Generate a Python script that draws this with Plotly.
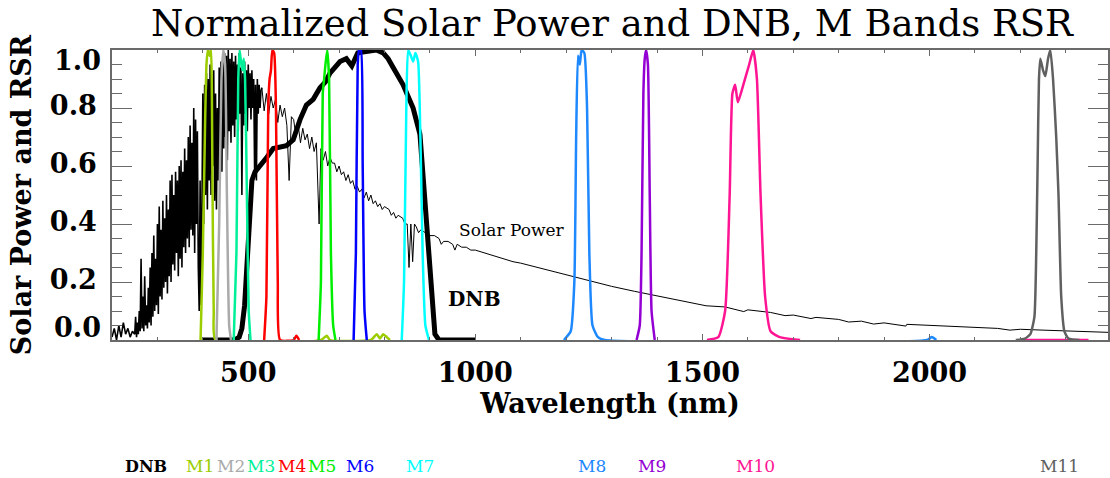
import plotly.graph_objects as go

# ---- Solar spectrum (normalized) ----
# short-wave part: dense absorption-line structure
solar_uv_nm = [200, 205, 210, 215, 220, 225, 230, 235, 240, 245,
               250, 252, 254, 256, 258, 260, 262, 264, 266, 268,
               270, 272, 274, 276, 278, 280, 282, 284, 286, 288,
               290, 292, 294, 296, 298, 300, 302, 304, 306, 308,
               310, 312, 314, 316, 318, 320, 322, 324, 326, 328,
               330, 332, 334, 336, 338, 340, 342, 344, 346, 348,
               350, 352, 354, 356, 358, 360, 362, 364, 366, 368,
               370, 372, 374, 376, 378, 380, 382, 384, 386, 388,
               390, 392, 394, 396, 398, 400, 402, 404, 406, 408,
               410, 412, 414, 416, 418, 420, 422, 424, 426, 428,
               430, 432, 434, 436, 438, 440, 442, 444, 446, 448,
               450, 452, 454, 456, 458, 460, 462, 464, 466, 468,
               470, 472, 474, 476, 478, 480, 482, 484, 486, 488,
               490, 492, 494, 496, 498, 500, 502, 504, 506, 508,
               510, 512, 514, 516, 518, 520, 522, 524, 526, 528, 530]
solar_uv_power = [0.01, 0.04, 0.00, 0.05, 0.01, 0.06, 0.02, 0.04, 0.01, 0.03,
                  0.02, 0.08, 0.01, 0.06, 0.02, 0.10, 0.03, 0.28, 0.04, 0.15,
                  0.03, 0.22, 0.05, 0.12, 0.04, 0.18, 0.06, 0.25, 0.05, 0.30,
                  0.08, 0.36, 0.10, 0.28, 0.12, 0.40, 0.09, 0.46, 0.15, 0.38,
                  0.14, 0.48, 0.18, 0.42, 0.20, 0.50, 0.16, 0.45, 0.22, 0.55,
                  0.20, 0.57, 0.26, 0.50, 0.24, 0.58, 0.30, 0.55, 0.22, 0.60,
                  0.28, 0.62, 0.25, 0.58, 0.32, 0.66, 0.30, 0.62, 0.35, 0.70,
                  0.32, 0.74, 0.38, 0.68, 0.36, 0.80, 0.30, 0.76, 0.40, 0.72,
                  0.25, 0.10, 0.55, 0.12, 0.45, 0.85, 0.40, 0.88, 0.50, 0.92,
                  0.45, 0.90, 0.55, 0.95, 0.50, 0.88, 0.60, 0.93, 0.48, 0.85,
                  0.45, 0.80, 0.55, 0.94, 0.62, 0.96, 0.58, 0.97, 0.66, 0.99,
                  0.70, 0.98, 0.62, 1.00, 0.72, 0.97, 0.68, 0.99, 0.74, 0.96,
                  0.70, 0.98, 0.76, 0.95, 0.72, 0.99, 0.78, 0.94, 0.50, 0.92,
                  0.74, 0.96, 0.78, 0.93, 0.72, 0.95, 0.80, 0.92, 0.76, 0.93,
                  0.80, 0.90, 0.58, 0.88, 0.55, 0.90, 0.78, 0.88, 0.80, 0.86, 0.87]
# visible / infrared part
solar_nm = [530, 535, 540, 545, 550, 555, 560, 565, 570, 575,
            580, 585, 590, 595, 600, 605, 610, 615, 620, 625,
            630, 635, 640, 645, 650, 656, 660, 665, 670, 675,
            680, 685, 690, 695, 700, 705, 710, 715, 720, 725,
            730, 735, 740, 745, 750, 755, 760, 765, 770, 775,
            780, 785, 790, 795, 800, 810, 815, 820, 825, 830,
            840, 845, 850, 854, 858, 862, 866, 870, 875, 880,
            890, 895, 900, 910, 920, 925, 930, 940, 950, 955,
            960, 970, 980, 990, 1000, 1050, 1083, 1100, 1150, 1200,
            1250, 1282, 1300, 1350, 1400, 1450, 1508, 1550, 1591, 1600,
            1650, 1682, 1700, 1739, 1750, 1800, 1822, 1850, 1877, 1900,
            1948, 1950, 2000, 2050, 2100, 2150, 2177, 2200, 2250, 2300,
            2350, 2400]
solar_power = [0.87, 0.79, 0.85, 0.78, 0.84, 0.80, 0.83, 0.75, 0.81, 0.77,
               0.80, 0.74, 0.55, 0.77, 0.76, 0.70, 0.74, 0.68, 0.73, 0.69,
               0.71, 0.66, 0.70, 0.65, 0.68, 0.40, 0.66, 0.62, 0.65, 0.60,
               0.63, 0.61, 0.61, 0.58, 0.60, 0.57, 0.58, 0.55, 0.57, 0.54,
               0.55, 0.52, 0.53, 0.51, 0.52, 0.49, 0.51, 0.48, 0.50, 0.47,
               0.48, 0.46, 0.47, 0.45, 0.46, 0.45, 0.43, 0.44, 0.42, 0.43,
               0.42, 0.40, 0.40, 0.25, 0.40, 0.27, 0.40, 0.39, 0.37, 0.38,
               0.37, 0.35, 0.36, 0.36, 0.35, 0.33, 0.34, 0.34, 0.33, 0.31,
               0.33, 0.32, 0.32, 0.31, 0.31, 0.285, 0.27, 0.265, 0.245, 0.225,
               0.205, 0.19, 0.185, 0.168, 0.152, 0.138, 0.118, 0.114, 0.098, 0.104,
               0.095, 0.084, 0.086, 0.074, 0.078, 0.071, 0.062, 0.065, 0.055, 0.059,
               0.048, 0.054, 0.050, 0.046, 0.043, 0.040, 0.034, 0.037, 0.034, 0.031,
               0.028, 0.026]

# ---- Day/Night Band relative spectral response ----
dnb_nm = [400, 470, 480, 486, 492, 497, 502, 508, 515, 526, 541, 555, 570, 584, 599, 614, 628, 643,
          658, 670, 680, 692, 702, 716, 728, 741, 760, 782, 797, 808, 819, 830, 841, 852, 863, 878,
          889, 900, 911, 920, 1000]
dnb_rsr = [0, 0, 0.01, 0.04, 0.12, 0.25, 0.45, 0.55, 0.58, 0.60, 0.63, 0.66, 0.665, 0.67, 0.69, 0.76,
           0.81, 0.83, 0.87, 0.89, 0.92, 0.945, 0.96, 0.97, 0.945, 0.99, 0.995, 1.0, 0.99, 0.97, 0.94,
           0.91, 0.88, 0.84, 0.80, 0.71, 0.48, 0.23, 0.02, 0, 0]

# ---- M band relative spectral responses ----
m1_nm = [395, 400, 405, 408, 411, 415, 418, 421, 424, 428, 660, 673, 680, 770, 783, 790, 797, 805, 812]
m1_rsr = [0, 0.3, 0.75, 0.95, 1.0, 0.98, 1.0, 0.6, 0.1, 0, 0, 0.015, 0, 0, 0.02, 0.005, 0.02, 0.01, 0]
m2_nm = [430, 436, 441, 445, 449, 453, 458, 462]
m2_rsr = [0, 0.4, 0.9, 1.0, 0.95, 0.5, 0.05, 0]
m3_nm = [468, 474, 478, 481, 484, 487, 490, 493, 497, 501, 505]
m3_rsr = [0, 0.3, 0.9, 1.0, 0.96, 0.93, 0.97, 0.9, 0.5, 0.1, 0]
m4_nm = [535, 540, 544, 547, 550, 553, 557, 561, 565, 570, 600, 606, 612]
m4_rsr = [0, 0.15, 0.8, 0.9, 0.93, 1.0, 0.99, 0.8, 0.2, 0, 0, 0.015, 0]
m5_nm = [655, 660, 664, 667, 670, 674, 678, 682, 687, 692]
m5_rsr = [0, 0.2, 0.85, 0.9, 0.95, 1.0, 0.9, 0.3, 0.05, 0]
m6_nm = [732, 737, 741, 744, 748, 752, 756, 761]
m6_rsr = [0, 0.3, 0.95, 1.0, 1.0, 0.6, 0.1, 0]
m7_nm = [838, 843, 848, 852, 858, 863, 868, 874, 879, 884, 890, 898]
m7_rsr = [0, 0.2, 0.8, 1.0, 0.98, 0.96, 0.99, 0.96, 0.7, 0.3, 0.05, 0]
m8_nm = [1195, 1210, 1218, 1222, 1226, 1230, 1234, 1240, 1246, 1251, 1258, 1270, 1285, 1995, 2005, 2015]
m8_rsr = [0, 0.03, 0.2, 0.7, 0.98, 0.95, 1.0, 0.99, 0.8, 0.3, 0.05, 0.01, 0, 0, 0.01, 0]
m9_nm = [1355, 1362, 1366, 1370, 1373, 1376, 1380, 1384, 1388, 1395]
m9_rsr = [0, 0.05, 0.3, 0.85, 0.97, 1.0, 0.95, 0.5, 0.1, 0]
m10_nm = [1510, 1535, 1550, 1560, 1566, 1572, 1578, 1590, 1603, 1612, 1620, 1628, 1638, 1650, 1670,
          1715, None, 2205, 2350]
m10_rsr = [0, 0.01, 0.1, 0.5, 0.85, 0.88, 0.82, 0.88, 0.95, 1.0, 0.9, 0.5, 0.15, 0.03, 0.01,
           0, None, 0, 0]
m11_nm = [2190, 2210, 2222, 2231, 2235, 2238, 2241, 2244, 2250, 2255, 2261, 2266, 2272, 2279, 2284,
          2290, 2297, 2306, 2330]
m11_rsr = [0, 0.005, 0.02, 0.08, 0.3, 0.6, 0.9, 0.97, 0.93, 0.91, 0.97, 1.0, 0.9, 0.7, 0.5,
           0.15, 0.03, 0.005, 0]

band_names = ["M1", "M2", "M3", "M4", "M5", "M6", "M7", "M8", "M9", "M10", "M11"]
band_nm = [m1_nm, m2_nm, m3_nm, m4_nm, m5_nm, m6_nm, m7_nm, m8_nm, m9_nm, m10_nm, m11_nm]
band_rsr = [m1_rsr, m2_rsr, m3_rsr, m4_rsr, m5_rsr, m6_rsr, m7_rsr, m8_rsr, m9_rsr, m10_rsr, m11_rsr]
band_colors = ["#9BCD00", "#AAAAAA", "#00F09A", "#FF0000", "#00EE00", "#0000FF", "#00FFFF",
               "#1E88FF", "#9400D3", "#FF1493", "#606060"]

# key labels under the axis: name, colour, x position (nm)
key_names = ["DNB"] + band_names
key_colors = ["#000000"] + band_colors
key_x = [275, 394, 461, 529, 597, 663, 745, 879, 1256, 1389, 1616, 2286]

x_ticks = [500, 1000, 1500, 2000]
y_ticks = [0.0, 0.2, 0.4, 0.6, 0.8, 1.0]
y_tick_text = ["", "0.2", "0.4", "0.6", "0.8", ""]

SERIF = "DejaVu Serif"
AXIS_GRAY = "#6a6a6a"
TICK_SIZE = 27

fig = go.Figure()

fig.add_trace(go.Scatter(x=solar_uv_nm, y=solar_uv_power, mode="lines",
                         line=dict(color="#000000", width=1.6), hoverinfo="skip"))
fig.add_trace(go.Scatter(x=solar_nm, y=solar_power, mode="lines",
                         line=dict(color="#000000", width=1), hoverinfo="skip"))
fig.add_trace(go.Scatter(x=dnb_nm, y=dnb_rsr, mode="lines",
                         line=dict(color="#000000", width=5), hoverinfo="skip"))
for nm, rsr, col in zip(band_nm, band_rsr, band_colors):
    fig.add_trace(go.Scatter(x=nm, y=rsr, mode="lines",
                             line=dict(color=col, width=2.5, shape="spline", smoothing=0.5),
                             hoverinfo="skip"))

annotations = []
# in-plot labels
annotations.append(dict(x=1080, y=0.38, xref="x", yref="y", text="Solar Power", showarrow=False,
                        font=dict(family=SERIF, size=17, color="#000000")))
annotations.append(dict(x=998, y=0.142, xref="x", yref="y", text="DNB", showarrow=False,
                        font=dict(family=SERIF, size=20, color="#000000", weight="bold")))
# end tick labels of the y axis, kept inside the axis span
for val, txt, shift in [(0.0, "0.0", 13), (1.0, "1.0", -10)]:
    annotations.append(dict(x=0, y=val, xref="paper", yref="y", text=txt, showarrow=False,
                            xanchor="right", xshift=-9, yshift=shift,
                            font=dict(family=SERIF, size=TICK_SIZE, color="#000000", weight="bold")))
# band key below the plot
for name, col, xk in zip(key_names, key_colors, key_x):
    bold = name == "DNB"
    annotations.append(dict(x=xk, y=-0.4345, xref="x", yref="paper", yanchor="middle",
                            text=name, showarrow=False,
                            font=dict(family=SERIF, size=16 if bold else 17, color=col,
                                      weight="bold" if bold else "normal")))

fig.update_layout(
    width=1110, height=478,
    margin=dict(l=112, r=0, t=50, b=138),
    paper_bgcolor="white", plot_bgcolor="white",
    showlegend=False,
    title=dict(text="Normalized Solar Power and DNB, M Bands RSR",
               x=612 / 1110, xanchor="center", y=1 - 23 / 478, yanchor="middle",
               xref="container", yref="container",
               font=dict(family=SERIF, size=37, color="#000000")),
    annotations=annotations,
)

fig.update_xaxes(
    range=[200, 2393], tickvals=x_ticks, ticks="inside", ticklen=6, tickwidth=1.2,
    tickcolor=AXIS_GRAY, showline=True, linecolor=AXIS_GRAY, linewidth=1.5, mirror="allticks",
    showgrid=False, zeroline=False, ticklabelstandoff=8,
    minor=dict(dtick=100, ticks="inside", ticklen=3, tickcolor=AXIS_GRAY, tickwidth=1, showgrid=False),
    tickfont=dict(family=SERIF, size=TICK_SIZE, color="#000000", weight="bold"),
    title=dict(text="Wavelength (nm)", standoff=4,
               font=dict(family=SERIF, size=27, color="#000000", weight="bold")),
)
fig.update_yaxes(
    range=[0, 1.0], tickvals=y_ticks, ticktext=y_tick_text, ticks="inside", ticklen=20,
    tickwidth=1.2, tickcolor=AXIS_GRAY, showline=True, linecolor=AXIS_GRAY, linewidth=1.5,
    mirror="allticks", showgrid=False, zeroline=False, ticklabelstandoff=8, ticklabelshift=-2,
    minor=dict(dtick=0.05, ticks="inside", ticklen=10, tickcolor=AXIS_GRAY, tickwidth=1, showgrid=False),
    tickfont=dict(family=SERIF, size=TICK_SIZE, color="#000000", weight="bold"),
    title=dict(text="Solar Power and RSR", standoff=10,
               font=dict(family=SERIF, size=27, color="#000000", weight="bold")),
)

fig.write_html("out.html")
